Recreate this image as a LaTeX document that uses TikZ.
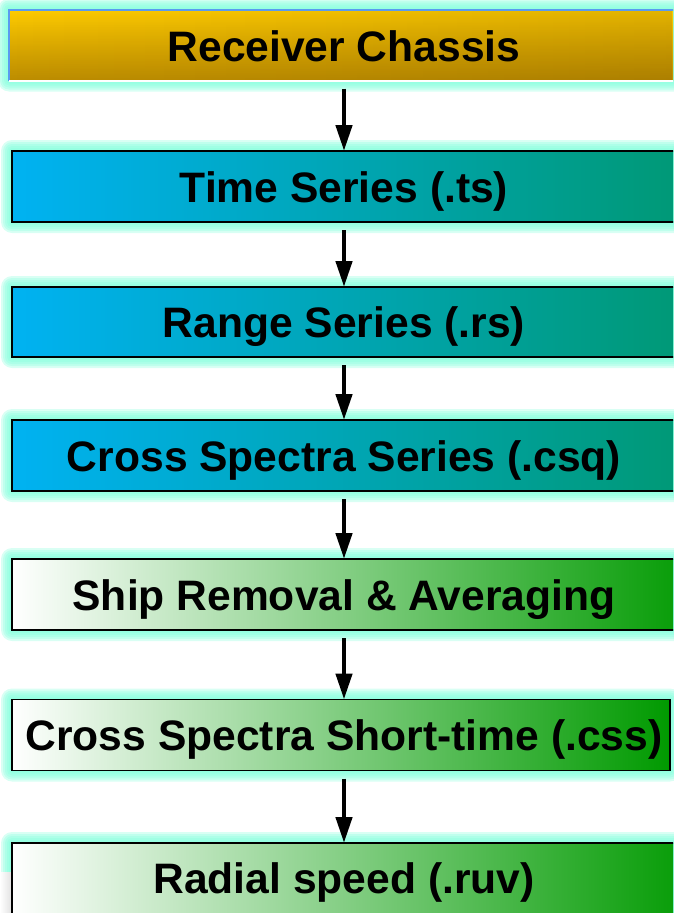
\documentclass[tikz,border=0pt]{standalone}
\usepackage{fontspec}
\setmainfont{Liberation Sans}
\usetikzlibrary{arrows.meta,backgrounds,fadings}

\definecolor{goldlight}{HTML}{FFCC00}
\definecolor{goldlow}{HTML}{D8A400}
\definecolor{goldshade}{HTML}{5A3A00}
\definecolor{skyblue}{HTML}{00B2F2}
\definecolor{tealgreen}{HTML}{009872}
\definecolor{leafgreen}{HTML}{009A00}
\definecolor{glowc}{RGB}{130,255,220}
\definecolor{edgeblue}{HTML}{5A9BF0}

% transparent on the left, opaque on the right
\tikzfading[name=towardsright, left color=transparent!100, right color=transparent!0]
% transparent at the top, opaque at the bottom
\tikzfading[name=towardsbottom, top color=transparent!100, bottom color=transparent!0]

\tikzset{
  box/.style={rectangle, inner sep=0pt, outer sep=0pt, line width=1.6pt},
  bluebox/.style={box, draw=black, left color=skyblue, right color=tealgreen},
  greenbox/.style={box, draw=black, left color=white, right color=leafgreen},
  goldbox/.style={box, top color=goldlight, bottom color=goldlow},
  caption/.style={inner sep=0pt, anchor=base, font=\fontsize{42.6}{48}\selectfont\bfseries},
  arr/.style={line width=4.5pt, -{Triangle[width=16pt,length=26pt]}},
}

% draws a soft halo round a box node
\newcommand{\halo}[1]{%
  \foreach \d in {11,9,7,5,3,1} {%
    \fill[glowc, opacity=0.3, rounded corners=\d pt]
      ([shift={(-\d pt,\d pt)}]#1.north west) rectangle ([shift={(\d pt,-\d pt)}]#1.south east);
  }%
}

\begin{document}
\begin{tikzpicture}[x=1pt,y=-1pt]
  \useasboundingbox (0,0) rectangle (673,913);
  \clip (0,0) rectangle (673,913);

  % boxes: centre at ((left+right)/2, (top+bottom)/2)
  \node[goldbox,  minimum width=691pt, minimum height=71pt] (b1) at (354.5,45) {};
  \node[bluebox,  minimum width=688pt, minimum height=71pt] (b2) at (356,186.5) {};
  \node[bluebox,  minimum width=688pt, minimum height=70pt] (b3) at (356,322) {};
  \node[bluebox,  minimum width=688pt, minimum height=71pt] (b4) at (356,455.5) {};
  \node[greenbox, minimum width=688pt, minimum height=71pt] (b5) at (356,594.5) {};
  \node[greenbox, minimum width=658pt, minimum height=71pt] (b6) at (341,735) {};
  \node[greenbox, minimum width=688pt, minimum height=80pt] (b7) at (356,883) {};

  % darker towards the lower right of the top box
  \fill[goldshade, fill opacity=0.16, path fading=towardsright]
    (b1.north west) rectangle (673,80);
  \fill[goldshade, fill opacity=0.22, path fading=towardsbottom]
    (b1.north west) rectangle (b1.south east);

  % edges of the top box
  \draw[edgeblue, line width=2pt] (b1.south west) -- (b1.north west) -- (b1.north east);
  \draw[white, line width=2pt] (b1.south west) -- (b1.south east);

  \begin{scope}[on background layer]
    \foreach \b in {b1,b2,b3,b4,b5,b6,b7} {\halo{\b}}
    \shade[left color=white, right color=black!12] (0,872) rectangle (12,913);
  \end{scope}

  % captions
  \node[caption] (t1) at (344,61)    {Receiver Chassis};
  \node[caption] (t2) at (344,202)   {Time Series (.ts)};
  \node[caption] (t3) at (344,337)   {Range Series (.rs)};
  \node[caption] (t4) at (344,471)   {Cross Spectra Series (.csq)};
  \node[caption] (t5) at (344,610)   {Ship Removal \& Averaging};
  \node[caption] (t6) at (344,750.5) {Cross Spectra Short-time (.css)};
  \node[caption] (t7) at (344,893)   {Radial speed (.ruv)};

  % flow arrows
  \draw[arr] ([yshift=-8pt]b1.south -| t1) -- (b2.north -| t1);
  \draw[arr] ([yshift=-8pt]b2.south -| t1) -- (b3.north -| t1);
  \draw[arr] ([yshift=-8pt]b3.south -| t1) -- (b4.north -| t1);
  \draw[arr] ([yshift=-8pt]b4.south -| t1) -- (b5.north -| t1);
  \draw[arr] ([yshift=-8pt]b5.south -| t1) -- (b6.north -| t1);
  \draw[arr] ([yshift=-8pt]b6.south -| t1) -- (b7.north -| t1);
\end{tikzpicture}
\end{document}
